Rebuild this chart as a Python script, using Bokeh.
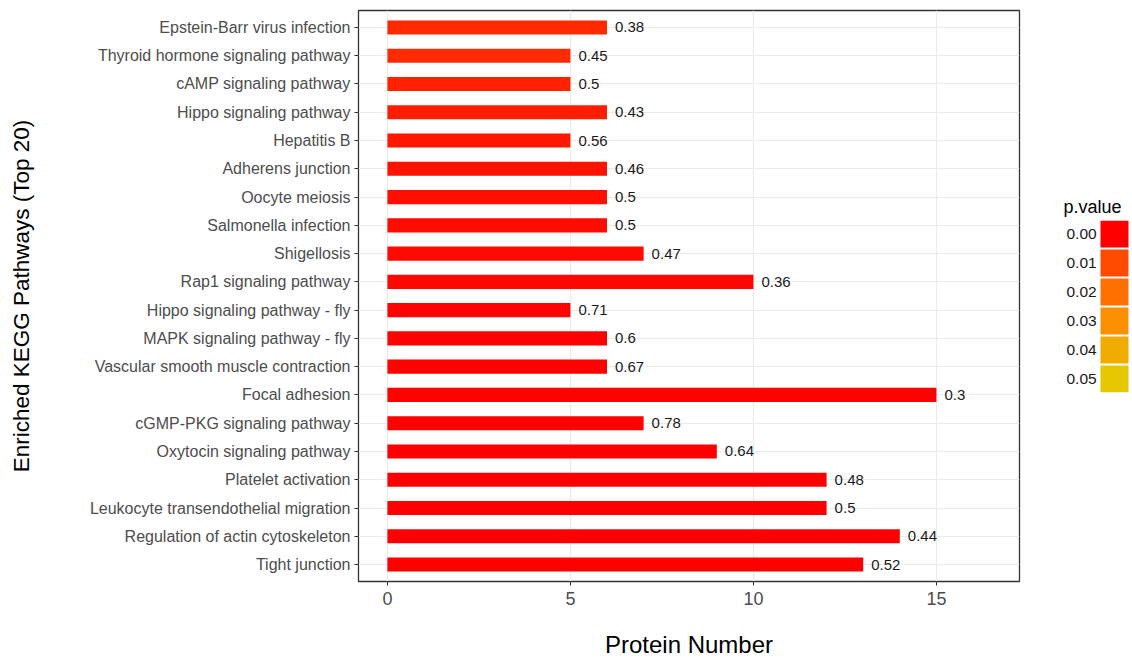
import numpy as np
from bokeh.plotting import figure
from bokeh.layouts import row
from bokeh.models import (ColumnDataSource, Range1d, FactorRange, LinearColorMapper,
                          FixedTicker, Label)
from bokeh.transform import transform
from bokeh.core.properties import value
from bokeh.embed import file_html
from bokeh.resources import INLINE

# KEGG pathway enrichment, top 20 (listed top to bottom)
pathways = [
    "Epstein-Barr virus infection",
    "Thyroid hormone signaling pathway",
    "cAMP signaling pathway",
    "Hippo signaling pathway",
    "Hepatitis B",
    "Adherens junction",
    "Oocyte meiosis",
    "Salmonella infection",
    "Shigellosis",
    "Rap1 signaling pathway",
    "Hippo signaling pathway - fly",
    "MAPK signaling pathway - fly",
    "Vascular smooth muscle contraction",
    "Focal adhesion",
    "cGMP-PKG signaling pathway",
    "Oxytocin signaling pathway",
    "Platelet activation",
    "Leukocyte transendothelial migration",
    "Regulation of actin cytoskeleton",
    "Tight junction",
]
protein_number = [6, 5, 5, 6, 5, 6, 6, 6, 7, 10, 5, 6, 6, 15, 7, 9, 12, 12, 14, 13]
rich_factor = [0.38, 0.45, 0.5, 0.43, 0.56, 0.46, 0.5, 0.5, 0.47, 0.36,
               0.71, 0.6, 0.67, 0.3, 0.78, 0.64, 0.48, 0.5, 0.44, 0.52]
p_value = [0.0055, 0.0058, 0.0045, 0.0040, 0.0032, 0.0026, 0.0020, 0.0016, 0.0012, 0.0008,
           0.0004, 0.0003, 0.0003, 0.0002, 0.0002, 0.0001, 0.0001, 0.0001, 0.0000, 0.0000]

legend_breaks = [0.00, 0.01, 0.02, 0.03, 0.04, 0.05]
legend_labels = ["0.00", "0.01", "0.02", "0.03", "0.04", "0.05"]
key_colors = ["#FF0000", "#FF4A00", "#FF7000", "#FA9000", "#F0AC00", "#E6C800"]
x_ticks = [0, 5, 10, 15]

FONT = "Liberation Sans"
TOP, BOTTOM = 10, 78
HEIGHT = 660


def hex_to_rgb(h):
    return [int(h[i:i + 2], 16) for i in (1, 3, 5)]


# continuous red -> yellow palette built from the key colours
_keys = np.array([hex_to_rgb(c) for c in key_colors], dtype=float)
_pos = np.linspace(0, 1, len(key_colors))
_t = np.linspace(0, 1, 256)
palette = ["#%02x%02x%02x" % tuple(int(round(np.interp(t, _pos, _keys[:, k]))) for k in range(3))
           for t in _t]
mapper = LinearColorMapper(palette=palette, low=min(legend_breaks), high=max(legend_breaks))

factors = list(reversed(pathways))
src = ColumnDataSource(dict(pathway=pathways, n=protein_number, rf=rich_factor,
                            pv=p_value, rf_text=[f"{v:g}" for v in rich_factor]))

# 0.1 category units of padding on each end of the discrete axis
p = figure(width=1040, height=HEIGHT,
           y_range=FactorRange(*factors, range_padding=0.1, range_padding_units="absolute"),
           x_range=Range1d(-0.79, 17.27), output_backend="svg", toolbar_location=None,
           min_border_left=358, min_border_top=TOP, min_border_right=21, min_border_bottom=BOTTOM)

p.hbar(y="pathway", right="n", left=0, height=0.5, source=src,
       fill_color=transform("pv", mapper), line_color=None)
p.text(x="n", y="pathway", text="rf_text", source=src, x_offset=8,
       text_font=value(FONT), text_font_size="15px", text_color="#1a1a1a",
       text_baseline="middle", text_align="left")

p.outline_line_color = "#333333"
p.outline_line_width = 1.3
p.background_fill_color = "white"
p.border_fill_color = "white"
p.xgrid.grid_line_color = "#EBEBEB"
p.ygrid.grid_line_color = "#EBEBEB"
p.xgrid.grid_line_width = 1.2
p.ygrid.grid_line_width = 1.2
p.xaxis.ticker = FixedTicker(ticks=x_ticks)

for ax in (p.xaxis[0], p.yaxis[0]):
    ax.axis_line_color = None
    ax.major_tick_line_color = "#333333"
    ax.major_tick_out = 4
    ax.major_tick_in = 0
    ax.minor_tick_line_color = None
    ax.major_label_text_font = FONT
    ax.major_label_text_color = "#4D4D4D"
    ax.axis_label_text_font = FONT
    ax.axis_label_text_font_style = "normal"
    ax.axis_label_text_color = "#000000"

p.yaxis.major_label_text_font_size = "16px"
p.yaxis.major_label_standoff = 4
p.yaxis.axis_label = "Enriched KEGG Pathways (Top 20)"
p.yaxis.axis_label_text_font_size = "22.5px"
p.yaxis.axis_label_standoff = 53

p.xaxis.major_label_text_font_size = "18px"
p.xaxis.major_label_standoff = 6
p.xaxis.axis_label = "Protein Number"
p.xaxis.axis_label_text_font_size = "24px"
p.xaxis.axis_label_text_line_height = 0.9
p.xaxis.axis_label_standoff = 23

# p.value key; the frame shares the main frame's vertical extent, so the
# y range is expressed in page pixels (TOP .. HEIGHT - BOTTOM)
lg = figure(width=92, height=HEIGHT, x_range=Range1d(0, 92),
            y_range=Range1d(HEIGHT - BOTTOM, TOP),
            output_backend="svg", toolbar_location=None,
            min_border_left=0, min_border_right=0,
            min_border_top=TOP, min_border_bottom=BOTTOM)
lg.axis.visible = False
lg.grid.visible = False
lg.outline_line_color = None
lg.border_fill_color = "white"

n_keys = len(legend_breaks)
key_src = ColumnDataSource(dict(
    cx=[74.0] * n_keys,
    cy=[234.0 + 29.0 * i for i in range(n_keys)],
    color=[palette[int(round((b - mapper.low) / (mapper.high - mapper.low) * 255))] for b in legend_breaks],
    label=legend_labels,
))
lg.rect(x="cx", y="cy", width=28, height=27, source=key_src, fill_color="color", line_color=None)
lg.text(x=26, y="cy", text="label", source=key_src, text_font=value(FONT),
        text_font_size="15.5px", text_color="#1a1a1a", text_baseline="middle", text_align="left")
lg.add_layout(Label(x=23, y=207, text="p.value", text_font=FONT, text_font_size="18px",
                    text_color="#000000", text_baseline="middle", text_align="left"))

layout = row(p, lg, spacing=0)
open("out.html", "w").write(file_html(layout, INLINE))
